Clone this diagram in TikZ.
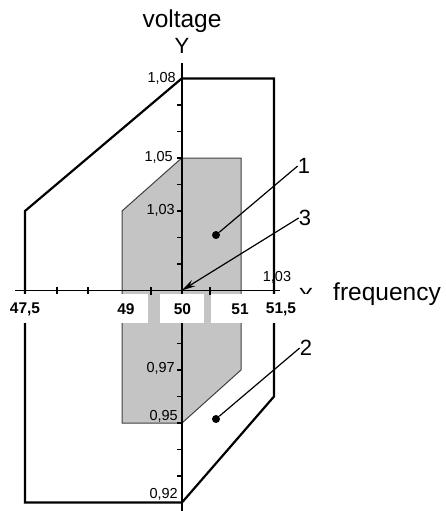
\documentclass[tikz,border=0pt]{standalone}
\usepackage{fontspec}
\setmainfont{Liberation Sans}
\usetikzlibrary{arrows.meta,positioning,calc}

\tikzset{
    region/.style={line width=2.2pt, line join=miter},
    zone/.style={fill=black!23, draw=black!75, line width=1pt},
    axis/.style={line width=1.6pt},
    tick/.style={line width=1.1pt},
    leader/.style={line width=1.2pt},
    vlabel/.style={font=\fontsize{14.5}{16}\selectfont, anchor=east, inner sep=0pt},
    flabel/.style={font=\fontsize{15.5}{18}\selectfont\bfseries, inner sep=0pt},
    num/.style={font=\fontsize{22}{24}\selectfont, inner sep=0pt},
    axlabel/.style={font=\fontsize{24.5}{27}\selectfont, inner sep=0pt},
    blob/.style={circle, fill=black, inner sep=0pt, minimum size=8pt},
}

\begin{document}
\begin{tikzpicture}[x=1pt,y=-1pt]
    \useasboundingbox (0,0) rectangle (446,511);
    \fill[white] (0,0) rectangle (446,511);

    % Shaded zone
    \draw[zone] (181.7,158) -- (241,158) -- (241,370) -- (182,423) -- (122,423) -- (122,211) -- cycle;

    % Outer region
    \draw[region] (25,211) -- (181.7,78.5) -- (274,78.5) -- (274,396.5) -- (182,502.5) -- (25,502.5) -- cycle;

    % Axes
    \draw[axis] (181.7,63) -- (181.7,511);
    \draw[axis] (15,290.5) -- (280,290.5);

    % Ticks on the voltage axis
    \foreach \v in {1,...,7}
        \draw[tick] (177,{290.5-26.5*\v}) -- (181.7,{290.5-26.5*\v});
    \foreach \v in {1,...,7}
        \draw[tick] (177,{290.5+26.5*\v}) -- (181.7,{290.5+26.5*\v});

    % Ticks on the frequency axis
    \foreach \x in {57,88,151,210,274}
        \draw[tick] (\x,287) -- (\x,295);

    % Voltage values
    \node[vlabel] (v108) at (176,78) {1,08};
    \node[vlabel] (v105) at (173,157) {1,05};
    \node[vlabel] (v103) at (175,210) {1,03};
    \node[vlabel] (v097) at (175,368) {0,97};
    \node[vlabel] (v095) at (178,416) {0,95};
    \node[vlabel] (v092) at (178,494) {0,92};
    \node[vlabel, anchor=center] (v103b) at (277,277) {1,03};

    % Axis names
    \node[axlabel, font=\fontsize{22}{24}\selectfont] (ylbl) at (182,46) {Y};
    \node[axlabel, above=5pt of ylbl] (volt) {voltage};
    \node[axlabel, font=\fontsize{22}{24}\selectfont] (xlbl) at (306,296) {X};
    \node[axlabel, anchor=base west] (freq) at (333,300) {frequency};

    % Leaders
    \node[num] (lbl1) at (304,166) {1};
    \node[blob] (dot1) at (216,235) {};
    \draw[leader] (lbl1.west) -- (dot1);

    \node[num] (lbl3) at (305,218) {3};
    \coordinate (orig) at (181.7,290.5);
    \draw[leader, -{Stealth[length=14pt,width=7pt]}] (lbl3.west) -- (orig);

    \node[num] (lbl2) at (306,348) {2};
    \node[blob] (dot2) at (216,419) {};
    \draw[leader] (lbl2.west) -- (dot2);

    % White strips under the frequency axis
    \fill[white] (0,294) rectangle (148,323);
    \fill[white] (160,294) rectangle (204,323);
    \fill[white] (211,294) rectangle (316,323);

    % Frequency values
    \node[flabel] (f475) at (25,309) {47,5};
    \node[flabel] (f49) at (126,309) {49};
    \node[flabel] (f50) at (182.5,309) {50};
    \node[flabel] (f51) at (240,309) {51};
    \node[flabel] (f515) at (281,309) {51,5};
\end{tikzpicture}
\end{document}
